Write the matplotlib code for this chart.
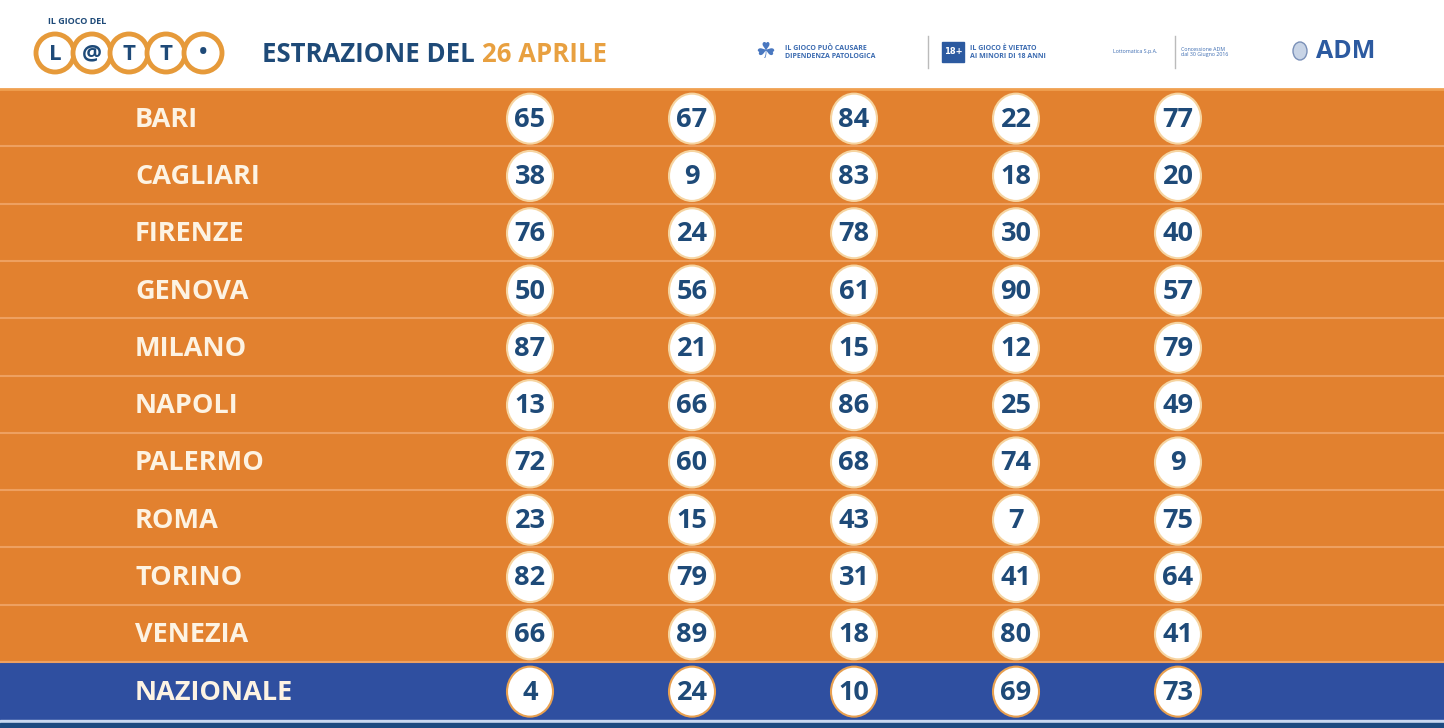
import matplotlib
matplotlib.use("Agg")
import matplotlib.pyplot as plt
from matplotlib.patches import Rectangle, Ellipse

cities = ["BARI", "CAGLIARI", "FIRENZE", "GENOVA", "MILANO", "NAPOLI",
          "PALERMO", "ROMA", "TORINO", "VENEZIA", "NAZIONALE"]
numbers = [
    [65, 67, 84, 22, 77],
    [38, 9, 83, 18, 20],
    [76, 24, 78, 30, 40],
    [50, 56, 61, 90, 57],
    [87, 21, 15, 12, 79],
    [13, 66, 86, 25, 49],
    [72, 60, 68, 74, 9],
    [23, 15, 43, 7, 75],
    [82, 79, 31, 41, 64],
    [66, 89, 18, 80, 41],
    [4, 24, 10, 69, 73],
]
title_main = "ESTRAZIONE DEL "
title_date = "26 APRILE"

W, H = 1444, 728
fig = plt.figure(figsize=(W / 100, H / 100), dpi=100)
ax = fig.add_axes([0, 0, 1, 1])
ax.set_xlim(0, W)
ax.set_ylim(H, 0)
ax.axis("off")

ORANGE = "#e2812f"
NAVY = "#1e4a78"
BLUE = "#2f4fa0"
CREAM = "#fdf3e3"
FONT = "Open Sans"

# header
ax.add_patch(Rectangle((0, 0), W, 88, color="white"))
ax.text(48, 22, "IL GIOCO DEL", fontsize=6.5, fontweight="bold", color=NAVY, family=FONT, va="center")
for i, ch in enumerate(["L", "@", "T", "T", "•"]):
    cx = 55 + i * 37
    ax.add_patch(Ellipse((cx, 53), 38, 38, facecolor="white", edgecolor="#e69a3a", lw=3.5))
    ax.text(cx, 54, ch, fontsize=16, fontweight="bold", color=NAVY, ha="center", va="center", family=FONT)
t = ax.text(262, 55, title_main, fontsize=18.5, fontweight="bold", color=NAVY, va="center", family=FONT)
fig.canvas.draw()
bb = t.get_window_extent()
ax.text(262 + bb.width, 55, title_date, fontsize=18.5, fontweight="bold", color="#e8a040", va="center", family=FONT)

ax.text(755, 52, "☘", fontsize=16, color="#4a78c0", va="center")
ax.text(785, 52, "IL GIOCO PUÒ CAUSARE\nDIPENDENZA PATOLOGICA", fontsize=5, color="#3a6ab0", va="center", family=FONT, fontweight="bold")
ax.plot([928, 928], [36, 68], color="#bbbbbb", lw=1)
ax.add_patch(Rectangle((942, 42), 22, 20, color="#2c5aa0"))
ax.text(953, 52, "18+", fontsize=6, color="white", ha="center", va="center", fontweight="bold")
ax.text(970, 52, "IL GIOCO È VIETATO\nAI MINORI DI 18 ANNI", fontsize=5, color="#3a6ab0", va="center", family=FONT, fontweight="bold")
ax.text(1113, 52, "Lottomatica S.p.A.", fontsize=3.8, color="#3a6ab0", va="center", family=FONT)
ax.plot([1175, 1175], [36, 68], color="#bbbbbb", lw=1)
ax.text(1181, 52, "Concessione ADM\ndal 30 Giugno 2016", fontsize=3.8, color="#3a6ab0", va="center", family=FONT)
ax.add_patch(Ellipse((1300, 51), 14, 18, facecolor="#c8d4e6", edgecolor="#7a90b8", lw=1))
ax.text(1316, 51, "ADM", fontsize=18, fontweight="bold", color="#2c5aa0", va="center", family=FONT)

# rows
top = 90
rh = 57.3
xs = [530, 692, 854, 1016, 1178]
for r, (city, row) in enumerate(zip(cities, numbers)):
    y0 = top + r * rh
    nat = city == "NAZIONALE"
    ax.add_patch(Rectangle((0, y0), W, rh, color=BLUE if nat else ORANGE))
    if not nat:
        ax.plot([0, W], [y0 + rh - 1, y0 + rh - 1], color="#eea060", lw=1.5)
    cy = y0 + rh / 2
    ax.text(135, cy + 1, city, fontsize=19.5, fontweight="bold", color=CREAM, va="center", family=FONT)
    for x, n in zip(xs, row):
        ax.add_patch(Ellipse((x, cy), 46, 50, facecolor="white",
                             edgecolor="#f6d4a0" if not nat else "#e8a050", lw=1.5))
        ax.text(x, cy + 1, str(n), fontsize=19.5, fontweight="bold", color=NAVY,
                ha="center", va="center", family=FONT)

ybot = top + 11 * rh
ax.add_patch(Rectangle((0, ybot), W, 3, color="#c8d8f0"))
ax.add_patch(Rectangle((0, ybot + 3), W, H - ybot, color="#1c4a80"))
ax.plot([0, W], [88.5, 88.5], color="#f0a050", lw=2)

fig.savefig("out.png", dpi=100)
